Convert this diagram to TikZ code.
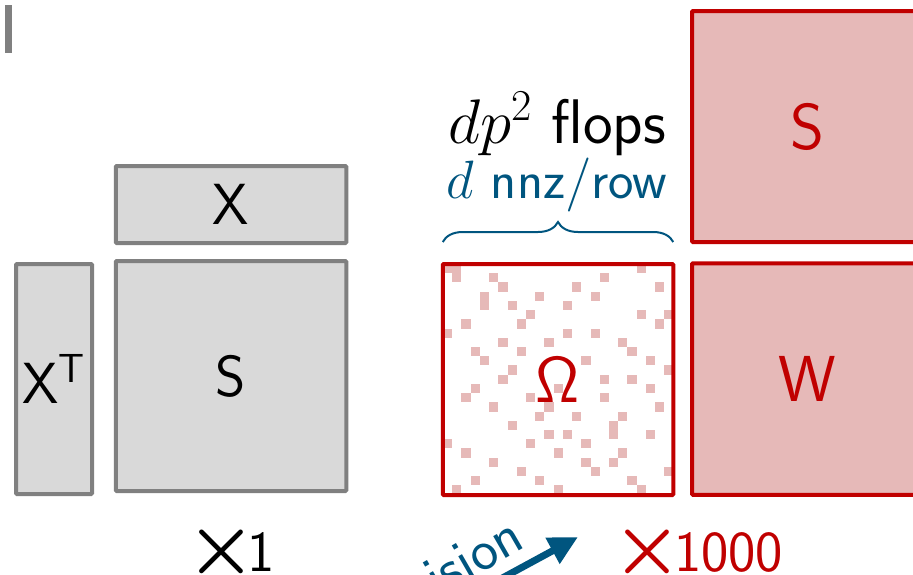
\documentclass[tikz,border=0pt]{standalone}
\usepackage{fix-cm}
\usepackage{amsmath}
\usepackage{graphicx}
\usepackage{tikz}
\usetikzlibrary{arrows.meta,decorations.pathreplacing,positioning}

\definecolor{boxgrey}{HTML}{808080}
\definecolor{fillgrey}{HTML}{D9D9D9}
\definecolor{omred}{HTML}{C00000}
\definecolor{ompink}{HTML}{E6B9B8}
\definecolor{ompblue}{HTML}{00557F}

\newcommand{\greyfont}{\fontsize{58}{62}\selectfont\sffamily}
\newcommand{\redfont}{\fontsize{65}{70}\selectfont\sffamily}
\newcommand{\costfont}{\fontsize{63}{66}\selectfont\sffamily}
\newcommand{\notefont}{\fontsize{54}{58}\selectfont\sffamily}
\newcommand{\bigtimes}{\scalebox{1.35}{$\boldsymbol{\times}$}\kern-9pt}

\begin{document}
\begin{tikzpicture}[x=1pt,y=-1pt,
    greybox/.style={draw=boxgrey,fill=fillgrey,line width=4pt,rounded corners=1pt,inner sep=0pt,font=\greyfont},
    redbox/.style={draw=omred,fill=ompink,line width=4pt,rounded corners=1pt,inner sep=0pt,text=omred,font=\redfont},
    omegabox/.style={draw=omred,line width=4pt,rounded corners=1pt,inner sep=0pt,text=omred,font=\redfont},
    nz/.style={fill=ompink},
    bluebrace/.style={draw=ompblue,line width=2pt,decorate,decoration={brace,amplitude=20pt}},
    bluearrow/.style={draw=ompblue,line width=7pt,-{Triangle[length=29pt,width=28pt]}}]
    \useasboundingbox (0,0) rectangle (913,574);

    \fill[boxgrey] (5,5) rectangle (12,53);

    % S = X^T X
    \node[greybox,minimum width=76,minimum height=230] (Xt) at (54,379) {X$^{\textsf{T}}$};
    \node[greybox,minimum width=230.5,minimum height=77] (X) at (231,204.5) {X};
    \node[greybox,minimum width=230.5,minimum height=230] (S) at (231,376) {S};
    \node[anchor=base,font=\greyfont] (one) at (231,571) {\bigtimes1};

    % sparse pattern of Omega, 25x25 cells
    \foreach \c/\r in {0/0,1/0,1/1,5/1,6/2,17/1,21/0,14/2,23/2,4/3,4/4,10/3,16/3,7/4,13/4,
        9/5,8/6,2/6,21/5,24/5,23/6,0/7,13/7,16/7,6/8,11/8,19/8,3/9,8/9,20/9,4/10,15/10,
        22/10,7/11,24/11,6/12,17/12,20/12,3/13,12/13,22/13,2/14,9/14,17/14,5/15,11/15,
        23/15,10/16,14/16,19/16,7/17,18/17,18/18,11/18,13/18,22/18,0/19,9/19,15/19,2/20,
        12/20,19/20,5/21,15/21,18/21,8/22,16/22,24/22,3/23,10/23,20/23,1/24,12/24,21/24}
        \fill[nz] ({443+9.22*\c},{264+9.22*\r}) rectangle +(9.22,9.22);
    \node[omegabox,minimum width=230.5,minimum height=231] (Om) at (558,379.5) {Ω};

    \draw[bluebrace] ([xshift=2pt,yshift=20pt]Om.north west) -- ([xshift=-2pt,yshift=20pt]Om.north east);
    \node[anchor=base,font=\costfont] (flops) at (557,143) {$dp^2$ flops};
    \node[anchor=base,font=\notefont,text=ompblue] (nnz) at (557,198) {$d$ nnz$/$row};

    \node[redbox,minimum width=230,minimum height=231] (S2) at (807,126.5) {S};
    \node[redbox,minimum width=230,minimum height=231.5] (W) at (807,379) {W};
    \node[anchor=base,font=\greyfont,text=omred] (thou) at (698,571) {\bigtimes1000};

    \coordinate (tail) at (495,582);
    \coordinate (tip) at (578,537);
    \draw[bluearrow] (tail) -- (tip);
    \node[rotate=30,anchor=base east,font=\greyfont,text=ompblue] (prec) at (530,545) {ision};
\end{tikzpicture}
\end{document}
